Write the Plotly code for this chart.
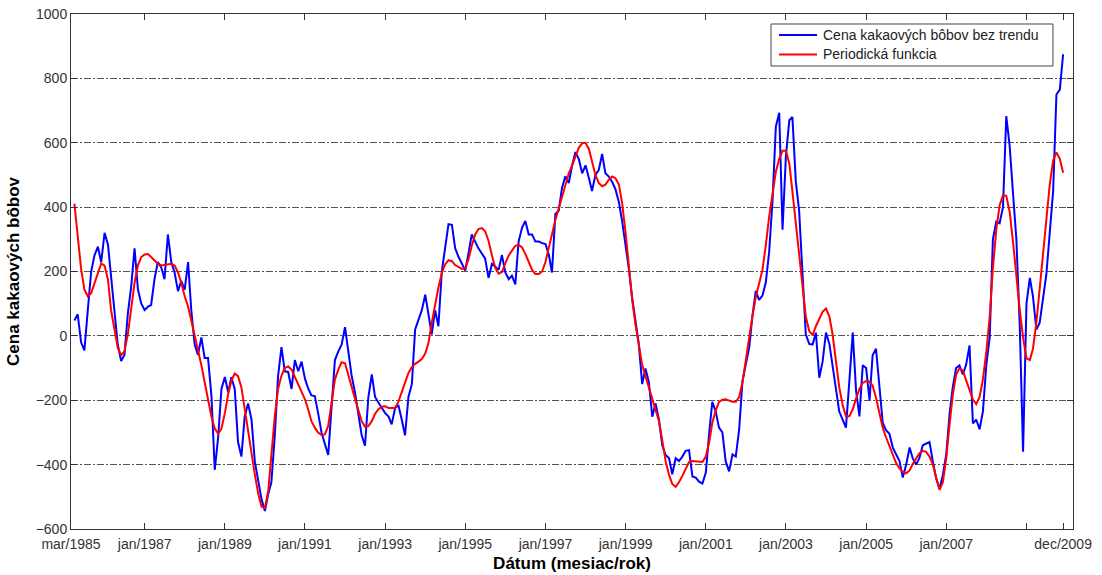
import pandas as pd
import plotly.graph_objects as go

# Monthly values, starting April 1985, ending December 2009
start_month = "1985-04-01"

cena_bez_trendu = [
    48, 67, -20, -45, 80, 200, 250, 277, 229, 320,
    283, 187, 80, -27, -78, -59, 69, 155, 272, 144,
    101, 80, 91, 96, 176, 229, 213, 176, 315, 229,
    197, 139, 171, 144, 229, 80, -27, -59, -5, -69,
    -69, -187, -416, -315, -165, -128, -176, -128, -165, -330,
    -375, -250, -210, -260, -390, -450, -507, -544, -490, -455,
    -310, -125, -35, -110, -112, -165, -75, -110, -80, -133,
    -165, -185, -187, -240, -300, -335, -370, -219, -75, -48,
    -27, 27, -43, -123, -176, -240, -309, -341, -190, -120,
    -190, -208, -225, -240, -251, -275, -225, -215, -260, -309,
    -190, -150, 20, 48, 80, 128, 60, 5, 80, 30,
    200, 270, 347, 345, 272, 245, 225, 203, 260, 315,
    293, 272, 256, 240, 180, 224, 215, 205, 251, 197,
    176, 187, 160, 293, 336, 357, 315, 315, 293, 293,
    288, 285, 251, 197, 379, 389, 460, 496, 475, 530,
    571, 549, 505, 530, 490, 450, 500, 515, 565, 505,
    495, 478, 455, 415, 355, 285, 205, 120, 50, -25,
    -150, -101, -144, -251, -210, -260, -340, -370, -380, -430,
    -380, -389, -375, -357, -355, -437, -440, -453, -459, -425,
    -300, -205, -235, -285, -300, -390, -421, -368, -375, -290,
    -140, -90, -35, 60, 140, 112, 125, 165, 260, 420,
    650, 693, 330, 560, 670, 680, 480, 390, 200, 5,
    -25, -27, 10, -130, -80, 10, -25, -90, -155, -235,
    -260, -285, -140, 10, -170, -250, -91, -100, -200, -60,
    -40, -155, -270, -293, -304, -347, -368, -389, -440, -400,
    -347, -380, -400, -380, -340, -335, -330, -390, -443, -475,
    -432, -368, -240, -160, -100, -92, -120, -90, -30, -272,
    -260, -290, -235, -90, -5, 300, 355, 350, 400, 683,
    590, 440, 300, 30, -360, 100, 180, 123, 20, 40,
    112, 190, 320, 450, 750, 765, 875,
]

periodicka_funkcia = [
    411, 315, 208, 144, 123, 133, 165, 200, 225, 218,
    175, 80, 16, -37, -60, -48, 5, 80, 165, 219,
    245, 253, 254, 245, 235, 224, 219, 221, 223, 224,
    219, 197, 165, 123, 91, 48, 5, -37, -91, -144,
    -197, -251, -288, -304, -288, -240, -180, -140, -117, -125,
    -160, -230, -300, -370, -430, -490, -530, -535, -480, -370,
    -250, -165, -123, -100, -95, -105, -128, -150, -175, -197,
    -230, -265, -285, -300, -308, -306, -280, -200, -135, -105,
    -82, -85, -125, -160, -195, -230, -265, -282, -280, -265,
    -242, -228, -220, -219, -224, -224, -224, -205, -175, -140,
    -115, -97, -87, -80, -72, -55, -20, 40, 100, 150,
    195, 222, 235, 232, 220, 213, 208, 210, 240, 280,
    315, 332, 335, 325, 295, 250, 212, 193, 198, 225,
    250, 265, 280, 283, 275, 255, 230, 205, 192, 192,
    200, 230, 275, 320, 360, 395, 435, 470, 505, 530,
    560, 585, 598, 600, 580, 540, 500, 475, 465, 470,
    485, 495, 490, 470, 410, 320, 210, 115, 35, -30,
    -90, -125, -160, -190, -225, -265, -325, -390, -432, -460,
    -469, -455, -435, -412, -392, -389, -390, -393, -392, -375,
    -330, -270, -232, -205, -198, -197, -200, -205, -205, -190,
    -145, -70, 0, 60, 120, 165, 205, 280, 370, 440,
    510, 550, 575, 575, 535, 450, 350, 250, 140, 60,
    15, 2, 30, 55, 75, 85, 60, 5, -80, -160,
    -215, -250, -250, -228, -195, -165, -146, -140, -142, -155,
    -192, -240, -285, -315, -340, -365, -395, -412, -423, -427,
    -418, -398, -380, -365, -357, -360, -375, -400, -440, -478,
    -455, -380, -272, -185, -120, -101, -108, -135, -168, -198,
    -212, -190, -135, -50, 60, 210, 330, 405, 437, 435,
    385, 290, 180, 80, -5, -70, -75, -40, 40, 140,
    250, 360, 470, 545, 570, 550, 507,
]

series_names = ["Cena kakaových bôbov bez trendu", "Periodická funkcia"]
series_colors = ["#0000FF", "#FF0000"]

tick_dates = ["1985-03-01", "1987-01-01", "1989-01-01", "1991-01-01", "1993-01-01",
              "1995-01-01", "1997-01-01", "1999-01-01", "2001-01-01", "2003-01-01",
              "2005-01-01", "2007-01-01", "2009-01-01", "2009-12-01"]
tick_labels = ["mar/1985", "jan/1987", "jan/1989", "jan/1991", "jan/1993",
               "jan/1995", "jan/1997", "jan/1999", "jan/2001", "jan/2003",
               "jan/2005", "jan/2007", "", "dec/2009"]
y_ticks = [-600, -400, -200, 0, 200, 400, 600, 800, 1000]

dates_blue = pd.date_range(start_month, periods=len(cena_bez_trendu), freq="MS")
dates_red = pd.date_range(start_month, periods=len(periodicka_funkcia), freq="MS")

fig = go.Figure()
fig.add_trace(go.Scatter(x=dates_blue, y=cena_bez_trendu, mode="lines",
                         name=series_names[0],
                         line=dict(color=series_colors[0], width=2)))
fig.add_trace(go.Scatter(x=dates_red, y=periodicka_funkcia, mode="lines",
                         name=series_names[1],
                         line=dict(color=series_colors[1], width=2)))

font_family = "Liberation Sans, Arial, sans-serif"

# MATLAB-style legend box (top right, inside the axes)
legend_box = dict(x0=0.6986, x1=0.9800, y0=0.8990, y1=0.9806)
legend_rows_y = [0.9592, 0.9214]
shapes = [dict(type="rect", xref="paper", yref="paper", layer="above",
               fillcolor="white", line=dict(color="#444444", width=1), **legend_box)]
annotations = []
for name, color, yy in zip(series_names, series_colors, legend_rows_y):
    shapes.append(dict(type="line", xref="paper", yref="paper", layer="above",
                       x0=0.7066, x1=0.7445, y0=yy, y1=yy,
                       line=dict(color=color, width=2)))
    annotations.append(dict(xref="paper", yref="paper", x=0.7485, y=yy,
                            xanchor="left", yanchor="middle", showarrow=False,
                            text=name, font=dict(size=14, color="#222222")))

fig.update_layout(
    width=1102, height=575,
    margin=dict(l=71, r=29, t=14, b=46, autoexpand=False),
    paper_bgcolor="white", plot_bgcolor="white",
    font=dict(family=font_family, size=14, color="#333333"),
    showlegend=False,
    shapes=shapes,
    annotations=annotations,
)
fig.update_xaxes(
    range=["1985-03-01", "2010-03-01"],
    tickmode="array", tickvals=tick_dates, ticktext=tick_labels,
    ticks="inside", ticklen=6, tickcolor="#333333", ticklabelstandoff=2,
    showline=True, linecolor="#333333", linewidth=1, mirror="ticks",
    showgrid=False, zeroline=False, automargin=False,
    title=dict(text="<b>Dátum (mesiac/rok)</b>", font=dict(size=17, color="#000000"), standoff=6),
)
fig.update_yaxes(
    range=[-600, 1000],
    tickmode="array", tickvals=y_ticks,
    ticks="inside", ticklen=6, tickcolor="#333333",
    showline=True, linecolor="#333333", linewidth=1, mirror="ticks",
    showgrid=True, gridcolor="#555555", gridwidth=1, griddash="7px,2px,2px,2px",
    zeroline=False, automargin=False,
    title=dict(text="<b>Cena kakaových bôbov</b>", font=dict(size=17, color="#000000"), standoff=11),
)

fig.write_html("out.html", config={"displayModeBar": False},
               post_script="document.body.style.margin='0';")
